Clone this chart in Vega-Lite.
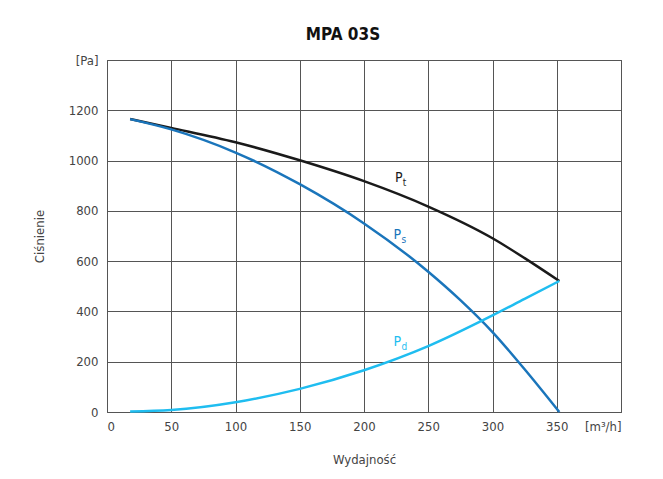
{
  "$schema": "https://vega.github.io/schema/vega-lite/v6.json",
  "width": 514,
  "height": 352,
  "autosize": {"type": "none"},
  "padding": {"left": 107, "top": 60, "right": 42, "bottom": 67},
  "background": "white",
  "title": {
    "text": "MPA 03S",
    "font": "DejaVu Sans Condensed, Roboto, sans-serif",
    "fontSize": 17,
    "fontWeight": "bold",
    "color": "#111111",
    "anchor": "middle",
    "frame": "group",
    "dx": -21,
    "offset": 10
  },
  "config": {
    "font": "DejaVu Sans Condensed, Roboto, sans-serif",
    "view": {"stroke": "#444444", "strokeWidth": 1},
    "text": {"font": "DejaVu Sans Condensed, Roboto, sans-serif"},
    "axis": {
      "domain": false,
      "ticks": false,
      "grid": true,
      "gridColor": "#555555",
      "gridOpacity": 1,
      "gridWidth": 1,
      "labelFont": "DejaVu Sans Condensed, Roboto, sans-serif",
      "labelFontSize": 13,
      "labelColor": "#444444",
      "titleFont": "DejaVu Sans Condensed, Roboto, sans-serif",
      "titleFontSize": 13,
      "titleFontWeight": "normal",
      "titleColor": "#444444"
    }
  },
  "datasets": {
    "curves": [
      {"series": "Pt", "flow": 18, "pa": 1165},
      {"series": "Pt", "flow": 50, "pa": 1130},
      {"series": "Pt", "flow": 100, "pa": 1073},
      {"series": "Pt", "flow": 150, "pa": 1001},
      {"series": "Pt", "flow": 200, "pa": 918},
      {"series": "Pt", "flow": 250, "pa": 817},
      {"series": "Pt", "flow": 300, "pa": 691},
      {"series": "Pt", "flow": 325, "pa": 612},
      {"series": "Pt", "flow": 352, "pa": 521},
      {"series": "Ps", "flow": 18, "pa": 1165},
      {"series": "Ps", "flow": 50, "pa": 1124},
      {"series": "Ps", "flow": 100, "pa": 1032},
      {"series": "Ps", "flow": 150, "pa": 906},
      {"series": "Ps", "flow": 200, "pa": 750},
      {"series": "Ps", "flow": 250, "pa": 558},
      {"series": "Ps", "flow": 275, "pa": 445},
      {"series": "Ps", "flow": 300, "pa": 318},
      {"series": "Ps", "flow": 325, "pa": 170},
      {"series": "Ps", "flow": 352, "pa": 0},
      {"series": "Pd", "flow": 18, "pa": 2},
      {"series": "Pd", "flow": 50, "pa": 8},
      {"series": "Pd", "flow": 100, "pa": 39},
      {"series": "Pd", "flow": 150, "pa": 92},
      {"series": "Pd", "flow": 200, "pa": 166},
      {"series": "Pd", "flow": 250, "pa": 262},
      {"series": "Pd", "flow": 300, "pa": 384},
      {"series": "Pd", "flow": 325, "pa": 450},
      {"series": "Pd", "flow": 352, "pa": 521}
    ],
    "labels": [
      {"series": "Pt", "flow": 227, "pa": 930, "sub": "t"},
      {"series": "Ps", "flow": 226, "pa": 704, "sub": "s"},
      {"series": "Pd", "flow": 226, "pa": 280, "sub": "d"}
    ]
  },
  "encoding": {
    "x": {
      "field": "flow",
      "type": "quantitative",
      "scale": {"domain": [0, 400], "nice": false, "zero": false},
      "axis": {
        "values": [0, 50, 100, 150, 200, 250, 300, 350, 400],
        "labelExpr": "datum.value == 400 ? '[m³/h]' : datum.label",
        "labelPadding": 8,
        "title": "Wydajność",
        "titlePadding": 20
      }
    },
    "y": {
      "field": "pa",
      "type": "quantitative",
      "scale": {"domain": [0, 1400], "nice": false},
      "axis": {
        "values": [0, 200, 400, 600, 800, 1000, 1200, 1400],
        "format": "d",
        "labelExpr": "datum.value == 1400 ? '[Pa]' : datum.label",
        "labelPadding": 9,
        "title": "Ciśnienie",
        "titlePadding": 22
      }
    },
    "color": {
      "field": "series",
      "type": "nominal",
      "scale": {"domain": ["Pt", "Ps", "Pd"], "range": ["#1a1a1a", "#1a75bb", "#1fbdf0"]},
      "legend": null
    }
  },
  "layer": [
    {
      "data": {"name": "curves"},
      "mark": {"type": "line", "interpolate": "monotone", "strokeWidth": 2.5}
    },
    {
      "data": {"name": "labels"},
      "mark": {"type": "text", "text": "P", "fontSize": 14, "align": "center", "baseline": "middle"}
    },
    {
      "data": {"name": "labels"},
      "mark": {"type": "text", "fontSize": 10, "align": "left", "baseline": "middle", "dx": 4, "dy": 5},
      "encoding": {"text": {"field": "sub"}}
    }
  ]
}
